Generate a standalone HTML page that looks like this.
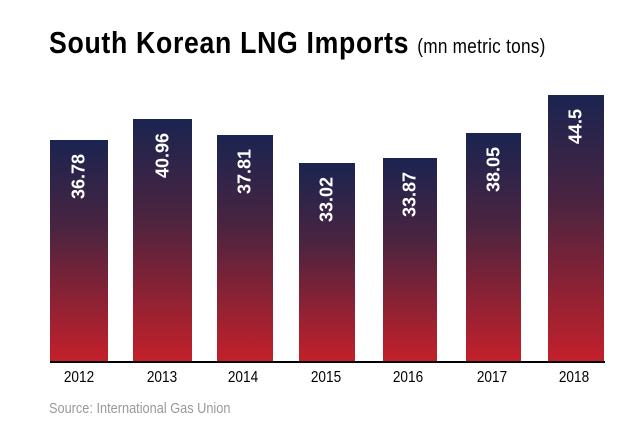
<!DOCTYPE html>
<html><head><style>
body{margin:0;width:630px;height:436px;background:#fff;overflow:hidden;position:relative;font-family:"Liberation Sans",sans-serif}
.t{position:absolute;left:49px;top:25px;font-size:31px;font-weight:bold;letter-spacing:0.8px;transform:scaleX(0.86);transform-origin:left;white-space:nowrap;color:#000}
.t span{font-size:20px;font-weight:normal;letter-spacing:0.3px}
.b{position:absolute;bottom:75px;background:linear-gradient(#1a2450,#4a2440 40%,#c3202a)}
.v{position:absolute;left:50%;color:#fff;font-weight:bold;font-size:18px;transform-origin:0 0;transform:rotate(-90deg) translate(-100%,-50%) ;white-space:nowrap;top:14px}
.y{position:absolute;top:369px;font-size:16px;transform:scaleX(0.85);width:60px;text-align:center}
</style></head><body>
<div class="t">South Korean LNG Imports <span>(mn metric tons)</span></div>
<div class="b" style="left:50px;width:58px;height:221px"><div class="v">36.78</div></div>
<div class="b" style="left:133px;width:59px;height:242px"><div class="v">40.96</div></div>
<div class="b" style="left:217px;width:56px;height:226px"><div class="v">37.81</div></div>
<div class="b" style="left:299px;width:56px;height:198px"><div class="v">33.02</div></div>
<div class="b" style="left:383px;width:54px;height:203px"><div class="v">33.87</div></div>
<div class="b" style="left:466px;width:55px;height:228px"><div class="v">38.05</div></div>
<div class="b" style="left:548px;width:56px;height:266px"><div class="v">44.5</div></div>
<div style="position:absolute;left:50px;top:361px;width:555px;height:2px;background:#000"></div>
<div class="y" style="left:49px">2012</div>
<div class="y" style="left:132px">2013</div>
<div class="y" style="left:213px">2014</div>
<div class="y" style="left:296px">2015</div>
<div class="y" style="left:378px">2016</div>
<div class="y" style="left:462px">2017</div>
<div class="y" style="left:544px">2018</div>
<div style="position:absolute;left:49px;top:400px;font-size:15px;color:#999;transform:scaleX(0.85);transform-origin:left;white-space:nowrap">Source: International Gas Union</div>
</body></html>
